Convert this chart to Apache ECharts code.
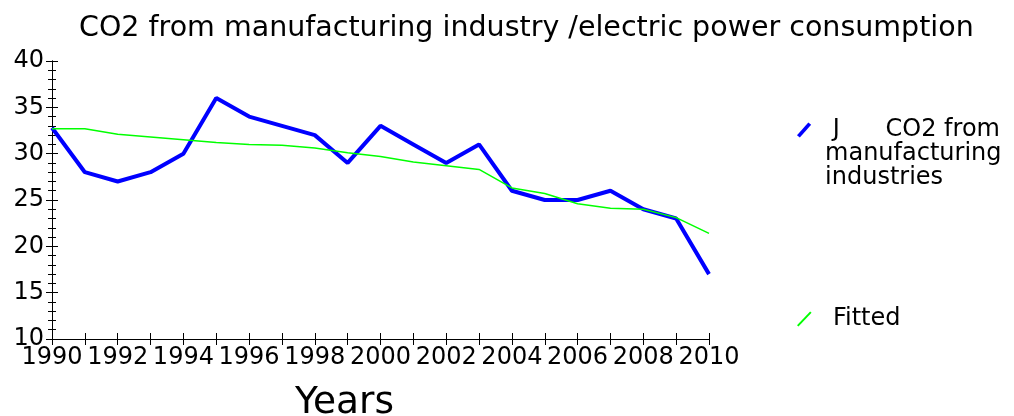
<!DOCTYPE html>
<html>
<head>
<meta charset="utf-8">
<script src="https://cdn.jsdelivr.net/npm/echarts@6/dist/echarts.min.js"></script>
<style>
  html, body { margin: 0; padding: 0; background: #fff; }
  #chart { width: 1014px; height: 416px; }
</style>
</head>
<body>
<div id="chart"></div>
<script>
// years 1990..2010
var years = [1990, 1991, 1992, 1993, 1994, 1995, 1996, 1997, 1998, 1999, 2000,
             2001, 2002, 2003, 2004, 2005, 2006, 2007, 2008, 2009, 2010];
var co2 = [32.8, 28, 27, 28, 30, 36, 34, 33, 32, 29, 33,
           31, 29, 31, 26, 25, 25, 26, 24, 23, 17];
var fitted = [32.7, 32.7, 32.1, 31.8, 31.5, 31.2, 31.0, 30.9, 30.6, 30.1, 29.7,
              29.1, 28.7, 28.3, 26.3, 25.7, 24.6, 24.1, 24.0, 23.1, 21.4];
var yTicks = [10, 15, 20, 25, 30, 35, 40];

var FONT = '"DejaVu Sans", sans-serif';
var thickIcon = 'path://M0,9 L8,0 L10,1.6 L2,10.6 Z';
var thinIcon = 'path://M0,9.5 L9,0 L10,0.8 L1,10.3 Z';

function pairs(vals) {
    return years.map(function (y, i) { return [y, vals[i]]; });
}

var chart = echarts.init(document.getElementById('chart'));

var baseY = {
    type: 'value',
    min: yTicks[0],
    max: yTicks[yTicks.length - 1],
    interval: 5,
    splitLine: {show: false},
    axisLine: {show: true, lineStyle: {color: '#000', width: 1}},
    minorTick: {show: true, splitNumber: 5, length: 4, lineStyle: {color: '#000'}},
    axisTick: {show: true, length: 6, lineStyle: {color: '#000'}}
};
var baseX = {
    type: 'value',
    min: years[0],
    max: years[years.length - 1],
    interval: 1,
    splitLine: {show: false},
    axisLine: {show: true, onZero: false, lineStyle: {color: '#000', width: 1}},
    axisTick: {show: true, length: 6, lineStyle: {color: '#000'}}
};

var option = {
    animation: false,
    backgroundColor: '#fff',
    title: [{
        text: 'CO2 from manufacturing industry /electric power consumption',
        left: 74, top: 9,
        textStyle: {fontFamily: FONT, fontSize: 28.5, fontWeight: 'normal', color: '#000'}
    }, {
        text: 'Years',
        left: 290, top: 379,
        textStyle: {fontFamily: FONT, fontSize: 37.5, fontWeight: 'normal', color: '#000'}
    }],
    grid: {left: 52, right: 305, top: 61, bottom: 77, containLabel: false},
    legend: [{
        data: ['co2'],
        left: 792, top: 65,
        icon: thickIcon, itemWidth: 32, itemHeight: 15,
        formatter: function () { return '\n\n J      CO2 from\nmanufacturing\nindustries'; },
        textStyle: {fontFamily: FONT, fontSize: 24, lineHeight: 24, color: '#000'}
    }, {
        data: ['Fitted'],
        left: 792, top: 302,
        icon: thinIcon, itemWidth: 32, itemHeight: 15,
        formatter: function () { return ' Fitted'; },
        textStyle: {fontFamily: FONT, fontSize: 24, lineHeight: 24, color: '#000'}
    }],
    xAxis: [
        Object.assign({}, baseX, {
            axisLabel: {
                fontFamily: FONT, fontSize: 24, color: '#000', margin: 7,
                formatter: function (v) { return v % 2 === 0 ? String(v) : ''; }
            }
        }),
        Object.assign({}, baseX, {
            position: 'bottom',
            axisTick: {show: true, inside: true, length: 6, lineStyle: {color: '#000'}},
            axisLabel: {show: false}
        })
    ],
    yAxis: [
        Object.assign({}, baseY, {
            axisLabel: {fontFamily: FONT, fontSize: 24, color: '#000', margin: 8}
        }),
        Object.assign({}, baseY, {
            position: 'left',
            axisTick: {show: true, inside: true, length: 6, lineStyle: {color: '#000'}},
            minorTick: {show: true, splitNumber: 5, length: 4, lineStyle: {color: '#000'}},
            axisLabel: {show: false}
        })
    ],
    series: [{
        name: 'co2',
        type: 'line',
        data: pairs(co2),
        showSymbol: false,
        color: '#0000ff',
        lineStyle: {width: 4, color: '#0000ff'},
        z: 3
    }, {
        name: 'Fitted',
        type: 'line',
        data: pairs(fitted),
        showSymbol: false,
        color: '#00ff00',
        lineStyle: {width: 1.5, color: '#00ff00'},
        z: 4
    }]
};
chart.setOption(option);
</script>
</body>
</html>
